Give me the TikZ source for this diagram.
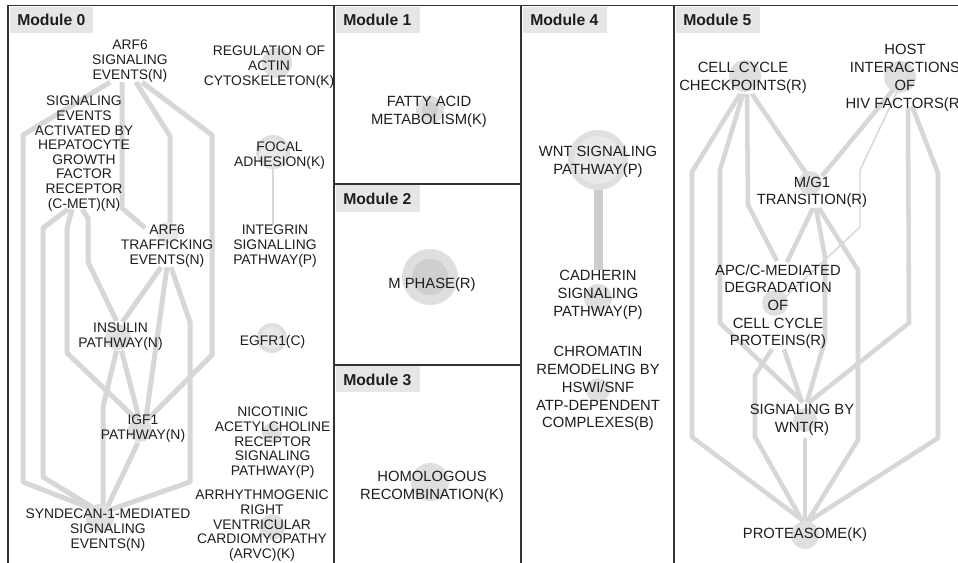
\documentclass[tikz,border=0pt]{standalone}
\usepackage{fontspec}
\setmainfont{Liberation Sans}
\usetikzlibrary{calc}
\pgfdeclarelayer{paper}
\pgfdeclarelayer{edges}
\pgfdeclarelayer{dots}
\pgfsetlayers{paper,edges,dots,main}
\definecolor{framec}{HTML}{333333}
\definecolor{headc}{HTML}{E6E6E6}
\definecolor{edgec}{HTML}{D7D7D7}
\definecolor{edgefat}{HTML}{CDCDCD}
\definecolor{dotc}{HTML}{DFDFDF}
\definecolor{dotd}{HTML}{CFCFCF}
\definecolor{dotl}{HTML}{E9E9E9}
\definecolor{txtc}{HTML}{1E1E1E}
\tikzset{
  lab0/.style={align=center, inner sep=0pt, text=txtc, font=\fontsize{10.4}{10.95}\selectfont},
  lab/.style={align=center, inner sep=0pt, text=txtc, font=\fontsize{11.1}{13.3}\selectfont},
  head/.style={anchor=base west, inner sep=0pt, text=txtc, font=\fontsize{11.8}{13}\selectfont\bfseries},
  dot/.style={circle, fill=dotc, draw=none, inner sep=0pt, minimum size={#1*0.75pt}},
  dotin/.style={circle, fill=dotd, draw=none, inner sep=0pt, minimum size={#1*0.75pt}},
  dotlt/.style={circle, fill=dotl, draw=none, inner sep=0pt, minimum size={#1*0.75pt}},
  framel/.style={draw=framec, line width=1pt},
  ezero/.style={draw=edgec, line width=3.75pt, line join=round},
  efive/.style={draw=edgec, line width=3.4pt, line join=round},
  ethin/.style={draw=edgec, line width=1.1pt, line join=round},
  efat/.style={draw=edgefat, line width=6.75pt}
}
\begin{document}
\begin{tikzpicture}[x=0.75pt,y=-0.75pt]
\useasboundingbox (0,0) rectangle (958,563);
\begin{pgfonlayer}{paper}
\fill[white] (0,0) rectangle (958,563);
\end{pgfonlayer}
\clip (0,0) rectangle (958,563);

% ---------- frame ----------
\draw[framel] (8,563) -- (8,5.5) -- (958,5.5);
\draw[framel] (334,5.5) -- (334,563);
\draw[framel] (521,5.5) -- (521,563);
\draw[framel] (674,5.5) -- (674,563);
\draw[framel] (334,184) -- (521,184);
\draw[framel] (334,365) -- (521,365);

% ---------- headers ----------
\fill[headc] (10,7) rectangle (93,33);
\node[head] (m0) at (17,26) {Module 0};
\fill[headc] (336,7) rectangle (420,33);
\node[head] (m1) at (343,26) {Module 1};
\fill[headc] (336,185.5) rectangle (420,212);
\node[head] (m2) at (343,205) {Module 2};
\fill[headc] (336,366.5) rectangle (420,392);
\node[head] (m3) at (343,385) {Module 3};
\fill[headc] (523,7) rectangle (607,33);
\node[head] (m4) at (530,26) {Module 4};
\fill[headc] (676,7) rectangle (760,33);
\node[head] (m5) at (683,26) {Module 5};

% ---------- node discs ----------
\begin{pgfonlayer}{dots}
\node[dotlt=22] (ca6t) at (168,233) {};
\node[dot=26] (cins) at (118,337) {};
\node[dot=24] (cigf) at (140,430) {};
\node[dot=28] (csyn) at (100,518) {};
\node[dot=30] (crac) at (277,63) {};
\node[dot=34] (cfoc) at (273,152) {};
\node[dotlt=26] (cfoci) at (273,152) {};
\node[dot=30] (cegf) at (272,338) {};
\node[dotlt=22] (cegfi) at (272,338) {};
\node[dot=20] (cnic) at (272,433) {};
\node[dot=26] (carv) at (272,527) {};
\node[dot=28] (cfat) at (430,110) {};
\node[dotin=16] (cfati) at (430,110) {};
\node[dot=56] (cmph) at (430,277) {};
\node[dotin=36] (cmphi) at (430,277) {};
\node[dot=38] (chom) at (430,482) {};
\node[dot=60] (cwnt) at (598,160) {};
\node[dotlt=48] (cwnti) at (598,160) {};
\node[dot=28] (ccad) at (598,298) {};
\node[dot=24] (cchr) at (598,390) {};
\node[dot=32] (cccc) at (745,76) {};
\node[dot=32] (chiv) at (900,77) {};
\node[dot=24] (cmg1) at (810,183) {};
\node[dot=26] (capc) at (775,303) {};
\node[dot=24] (csbw) at (805,420) {};
\node[dot=28] (cpro) at (805,535) {};
\end{pgfonlayer}

% ---------- labels: module 0 ----------
\node[lab0] (a6s) at (130,61.1) {ARF6\\SIGNALING\\EVENTS(N)};
\node[lab0] (seh) at (84,153.6) {SIGNALING\\EVENTS\\ACTIVATED BY\\HEPATOCYTE\\GROWTH\\FACTOR\\RECEPTOR\\(C-MET)(N)};
\node[lab0] (a6t) at (167,246.1) {ARF6\\TRAFFICKING\\EVENTS(N)};
\node[lab0] (ins) at (120.5,336.8) {INSULIN\\PATHWAY(N)};
\node[lab0] (igf) at (143,428.8) {IGF1\\PATHWAY(N)};
\node[lab0] (syn) at (108,530.1) {SYNDECAN-1-MEDIATED\\SIGNALING\\EVENTS(N)};
\node[lab0] (rac) at (269,67.1) {REGULATION OF\\ACTIN\\CYTOSKELETON(K)};
\node[lab0] (foc) at (279.5,155.8) {FOCAL\\ADHESION(K)};
\node[lab0] (itg) at (275,246.1) {INTEGRIN\\SIGNALLING\\PATHWAY(P)};
\node[lab0] (egf) at (272.5,341.5) {EGFR1(C)};
\node[lab0] (nic) at (272.7,442.7) {NICOTINIC\\ACETYLCHOLINE\\RECEPTOR\\SIGNALING\\PATHWAY(P)};
\node[lab0] (arv) at (262,525.7) {ARRHYTHMOGENIC\\RIGHT\\VENTRICULAR\\CARDIOMYOPATHY\\(ARVC)(K)};

% ---------- labels: modules 1-5 ----------
\node[lab] (fat) at (429,112.1) {FATTY ACID\\METABOLISM(K)};
\node[lab] (mph) at (432,284.3) {M PHASE(R)};
\node[lab] (hom) at (432,487.1) {HOMOLOGOUS\\RECOMBINATION(K)};
\node[lab] (wnt) at (598,162.1) {WNT SIGNALING\\PATHWAY(P)};
\node[lab] (cad) at (598,295) {CADHERIN\\SIGNALING\\PATHWAY(P)};
\node[lab] (chr) at (598,388.7) {CHROMATIN\\REMODELING BY\\HSWI/SNF\\ATP-DEPENDENT\\COMPLEXES(B)};
\node[lab] (ccc) at (743,78.1) {CELL CYCLE\\CHECKPOINTS(R)};
\node[lab] (hiv) at (905,77.8) {HOST\\INTERACTIONS\\OF\\HIV FACTORS(R)};
\node[lab] (mg1) at (812,192.1) {M/G1\\TRANSITION(R)};
\node[lab] (apc) at (778,306.7) {APC/C-MEDIATED\\DEGRADATION\\OF\\CELL CYCLE\\PROTEINS(R)};
\node[lab] (sbw) at (802,420.1) {SIGNALING BY\\WNT(R)};
\node[lab] (pro) at (805,534.3) {PROTEASOME(K)};

% ---------- connectors ----------
\begin{pgfonlayer}{edges}
% module 0
\draw[ezero] ($(a6s.south)+(-20,0)$) -- (23,135) -- (23,482) -- ($(syn.north)+(-8,3)$);
\draw[ezero] ($(seh.south)+(-16,-2)$) -- (43,228) -- (43,477) -- ($(syn.north)+(-8,3)$);
\draw[ezero] ($(seh.south)+(-12,-2)$) -- (67,228) -- (67,353) -- ($(igf.north)+(-7,4)$);
\draw[ezero] ($(seh.south)+(-2,-2)$) -- (88,218) -- (88,262) -- ($(ins.north)+(-4,-2)$);
\draw[ezero] ($(a6s.south)+(-8,0)$) -- (122,208) -- ($(a6t.north)+(-22,3)$);
\draw[ezero] ($(a6s.south)+(6,0)$) -- (170,136) -- ($(a6t.north)+(3,3)$);
\draw[ezero] ($(a6s.south)+(12,0)$) -- (212,135) -- (212,355) -- ($(igf.north)+(4,5)$);
\draw[ezero] ($(a6t.south)+(-6,0)$) -- ($(ins.north)+(2,-1)$);
\draw[ezero] (a6t.south) -- ($(igf.north)+(3,3)$);
\draw[ezero] ($(a6t.south)+(4,0)$) -- (190,322) -- (190,482) -- ($(syn.north)+(-4,3)$);
\draw[ezero] ($(ins.south)+(1,0)$) -- ($(igf.north)+(-4,3)$);
\draw[ezero] ($(ins.south)+(-4,0)$) -- (103,407) -- ($(syn.north)+(-5,0)$);
\draw[ezero] ($(igf.south)+(-5,0)$) -- ($(syn.north)+(-2,1)$);
\draw[ethin] (cfoc.south) -- (cfoc.south |- itg.north);
% module 4
\draw[efat] (cwnt.south) -- (cad.north);
% module 5
\draw[efive] ($(ccc.south)+(-3,0)$) -- (692,172) -- (692,437) -- ($(pro.north)+(0,-5)$);
\draw[efive] (ccc.south) -- (720,170) -- (720,323) -- ($(sbw.north)+(1,-2)$);
\draw[efive] ($(ccc.south)+(4,0)$) -- (748,205) -- ($(apc.north)+(-1,-3)$);
\draw[efive] ($(ccc.south)+(9,0)$) -- ($(mg1.north)+(-4,0)$);
\draw[efive] ($(chiv)+(-7,13)$) -- ($(mg1.north)+(10,0)$);
\draw[ethin] ($(chiv)+(-3,15)$) -- (860,170) -- (860,227) -- ($(capc)+(7,-3)$);
\draw[efive] ($(chiv)+(8,31)$) -- (909,323) -- ($(sbw.north)+(6,-1)$);
\draw[efive] ($(chiv)+(12,29)$) -- (938,173) -- (938,438) -- ($(pro.north)+(2,-5)$);
\draw[efive] ($(mg1.south)+(1,0)$) -- ($(apc.north)+(9,-2)$);
\draw[efive] ($(mg1.south)+(4,0)$) -- (825,257) -- (825,340) -- ($(sbw.north)+(5,-2)$);
\draw[efive] ($(mg1.south)+(7,0)$) -- (858,270) -- (858,440) -- ($(pro.north)+(2,-5)$);
\draw[efive] ($(apc.south)+(6,0)$) -- ($(sbw.north)+(0,-2)$);
\draw[efive] ($(apc.south)+(-6,0)$) -- (755,375) -- (755,437) -- ($(pro.north)+(-2,-5)$);
\draw[efive] ($(sbw.south)+(3,2)$) -- ($(pro.north)+(0,-5)$);
\end{pgfonlayer}
\end{tikzpicture}
\end{document}
